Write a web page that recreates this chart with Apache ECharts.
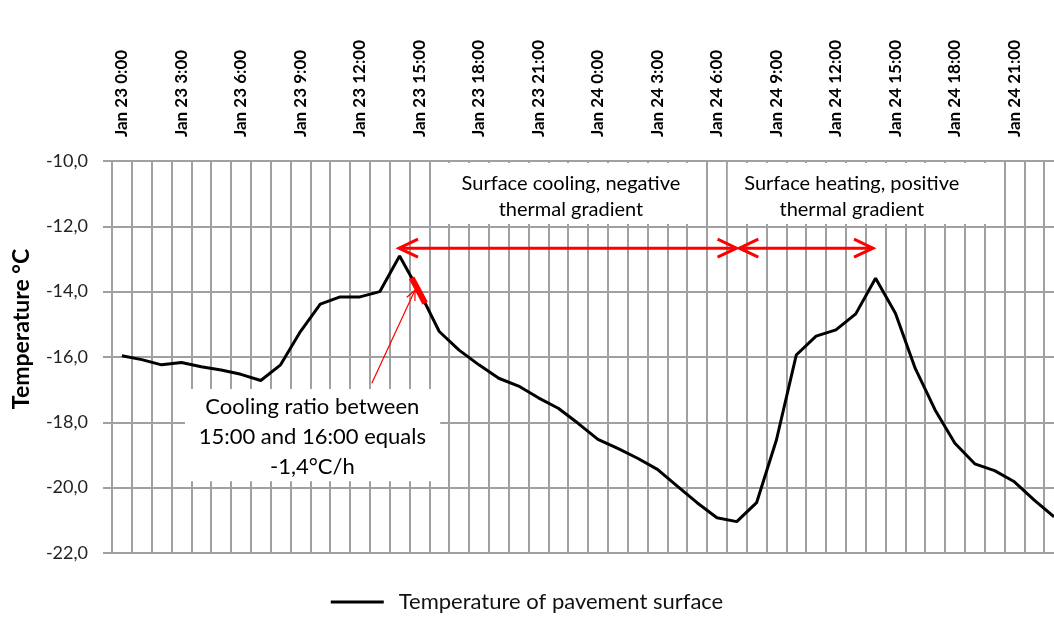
<!DOCTYPE html>
<html><head><meta charset="utf-8">
<script src="https://cdn.jsdelivr.net/npm/echarts@6/dist/echarts.min.js"></script>
<style>html,body{margin:0;padding:0;background:#fff}#c{width:1054px;height:619px}</style>
</head><body><div id="c"></div>
<script>
const categories = [
  'Jan 23 0:00','Jan 23 1:00','Jan 23 2:00','Jan 23 3:00','Jan 23 4:00','Jan 23 5:00',
  'Jan 23 6:00','Jan 23 7:00','Jan 23 8:00','Jan 23 9:00','Jan 23 10:00','Jan 23 11:00',
  'Jan 23 12:00','Jan 23 13:00','Jan 23 14:00','Jan 23 15:00','Jan 23 16:00','Jan 23 17:00',
  'Jan 23 18:00','Jan 23 19:00','Jan 23 20:00','Jan 23 21:00','Jan 23 22:00','Jan 23 23:00',
  'Jan 24 0:00','Jan 24 1:00','Jan 24 2:00','Jan 24 3:00','Jan 24 4:00','Jan 24 5:00',
  'Jan 24 6:00','Jan 24 7:00','Jan 24 8:00','Jan 24 9:00','Jan 24 10:00','Jan 24 11:00',
  'Jan 24 12:00','Jan 24 13:00','Jan 24 14:00','Jan 24 15:00','Jan 24 16:00','Jan 24 17:00',
  'Jan 24 18:00','Jan 24 19:00','Jan 24 20:00','Jan 24 21:00','Jan 24 22:00','Jan 24 23:00'
];
const seriesName = 'Temperature of pavement surface';
const temperature = [
  -15.96, -16.08, -16.24, -16.17, -16.30, -16.40, -16.53, -16.72, -16.24, -15.22, -14.38, -14.16,
  -14.16, -14.00, -12.91, -14.00, -15.22, -15.79, -16.24, -16.65, -16.89, -17.25, -17.57, -18.03,
  -18.52, -18.80, -19.10, -19.44, -19.95, -20.46, -20.92, -21.04, -20.46, -18.54, -15.94, -15.36,
  -15.17, -14.68, -13.59, -14.66, -16.35, -17.62, -18.64, -19.27, -19.48, -19.82, -20.38, -20.89
];
const yTicks = [-22, -20, -18, -16, -14, -12, -10];
const boxText1 = ['Surface cooling, negative', 'thermal gradient'];
const boxText2 = ['Surface heating, positive', 'thermal gradient'];
const boxText3 = ['Cooling ratio between', '15:00 and 16:00 equals', '-1,4°C/h'];
const yTitle = 'Temperature °C';

const FONT = 'Lato';
const GRID = '#a0a0a0';
const chart = echarts.init(document.getElementById('c'), null, {renderer: 'canvas'});
const option = {
  animation: false,
  backgroundColor: '#fff',
  grid: {left: 112, width: 952, top: 161, bottom: 66, containLabel: false, outerBoundsMode: 'none'},
  legend: {
    data: [seriesName], left: 'center', top: 591, padding: 0, itemWidth: 53, itemHeight: 14,
    icon: 'path://M0,6 L53,6 L53,9 L0,9 Z',
    itemStyle: {color: '#000'},
    textStyle: {fontFamily: FONT, fontSize: 22, color: '#111', padding: [0, 0, 0, 10]}
  },
  xAxis: {
    type: 'category', position: 'top', data: categories, boundaryGap: true,
    axisLine: {show: true, lineStyle: {color: GRID, width: 2}},
    axisTick: {show: false},
    axisLabel: {interval: 2, rotate: -90, margin: 24, padding: [9, 0, 0, 0], fontFamily: FONT, fontWeight: 'bold', fontSize: 17, color: '#000'},
    splitLine: {show: true, interval: 0, lineStyle: {color: GRID, width: 2}}
  },
  yAxis: {
    type: 'value', min: yTicks[0], max: yTicks[yTicks.length - 1], interval: 2,
    axisLine: {show: false},
    axisTick: {show: true, length: 9, lineStyle: {color: GRID, width: 2}},
    axisLabel: {margin: 24, fontFamily: FONT, fontSize: 18, color: '#222',
      formatter: v => v.toFixed(1).replace('.', ',')},
    splitLine: {show: true, lineStyle: {color: GRID, width: 2}}
  },
  series: [{
    name: seriesName, type: 'line', data: temperature, symbol: 'none', z: 5,
    lineStyle: {color: '#000', width: 3}, itemStyle: {color: '#000'}
  }]
};
chart.setOption(option);

function P(i, v) {
  const a = chart.convertToPixel({xAxisIndex: 0, yAxisIndex: 0}, [0, v]);
  const b = chart.convertToPixel({xAxisIndex: 0, yAxisIndex: 0}, [1, v]);
  return [a[0] + (b[0] - a[0]) * i, a[1]];
}
function onLine(i) {
  const k = Math.floor(i), t = i - k;
  const a = chart.convertToPixel({seriesIndex: 0}, [k, temperature[k]]);
  const b = chart.convertToPixel({seriesIndex: 0}, [k + 1, temperature[k + 1]]);
  return [a[0] + (b[0] - a[0]) * t, a[1] + (b[1] - a[1]) * t];
}
const els = [];
function box(i0, i1, v0, v1) {
  const p0 = P(i0, v0), p1 = P(i1, v1);
  els.push({type: 'rect', z: 3, shape: {x: p0[0], y: p0[1], width: p1[0] - p0[0], height: p1[1] - p0[1]},
    style: {fill: '#fff'}});
}
function text(lines, i, v, size, lh) {
  const p = P(i, v);
  els.push({type: 'text', z: 10, x: p[0], y: p[1], style: {text: lines.join('\n'), fontFamily: FONT,
    fontSize: size, lineHeight: lh, fill: '#000', align: 'center', verticalAlign: 'middle'}});
}
function head(tip, dir, len, half, w) {
  els.push({type: 'polyline', z: 12, shape: {points: [[tip[0] + dir[0] * len - dir[1] * half, tip[1] + dir[1] * len + dir[0] * half], tip,
    [tip[0] + dir[0] * len + dir[1] * half, tip[1] + dir[1] * len - dir[0] * half]]},
    style: {stroke: '#ff0000', lineWidth: w, fill: null, lineJoin: 'miter'}});
}
function dblArrow(i0, i1, v) {
  const a = P(i0, v), b = P(i1, v);
  els.push({type: 'line', z: 12, shape: {x1: a[0], y1: a[1], x2: b[0], y2: b[1]}, style: {stroke: '#ff0000', lineWidth: 3}});
  head(a, [1, 0], 19, 9, 3);
  head(b, [-1, 0], 19, 9, 3);
}
box(15.8, 29.45, -10.06, -11.93);
box(30.55, 43.95, -10.06, -11.93);
box(3.18, 16.05, -16.98, -19.8);
text(boxText1, 22.64, -11.1, 20, 26);
text(boxText2, 36.8, -11.1, 20, 26);
text(boxText3, 9.6, -18.45, 22, 30);
dblArrow(13.97, 30.99, -12.67);
dblArrow(31.13, 37.87, -12.67);
const ta = P(12.6, -16.8), tb = P(14.78, -13.95);
els.push({type: 'line', z: 12, shape: {x1: ta[0], y1: ta[1], x2: tb[0], y2: tb[1]}, style: {stroke: '#ff0000', lineWidth: 1.2}});
const dx = ta[0] - tb[0], dy = ta[1] - tb[1], L = Math.hypot(dx, dy);
head(tb, [dx / L, dy / L], 10, 4.5, 1.2);
const s0 = onLine(14.61), s1 = onLine(15.29);
els.push({type: 'line', z: 12, shape: {x1: s0[0], y1: s0[1], x2: s1[0], y2: s1[1]}, style: {stroke: '#ff0000', lineWidth: 6, lineCap: 'butt'}});
els.push({type: 'text', z: 10, x: 22, y: 329, rotation: Math.PI / 2, style: {text: yTitle, fontFamily: FONT,
  fontWeight: 'bold', fontSize: 23, fill: '#000', align: 'center', verticalAlign: 'middle'}});
chart.setOption({graphic: {elements: els}});
</script></body></html>
